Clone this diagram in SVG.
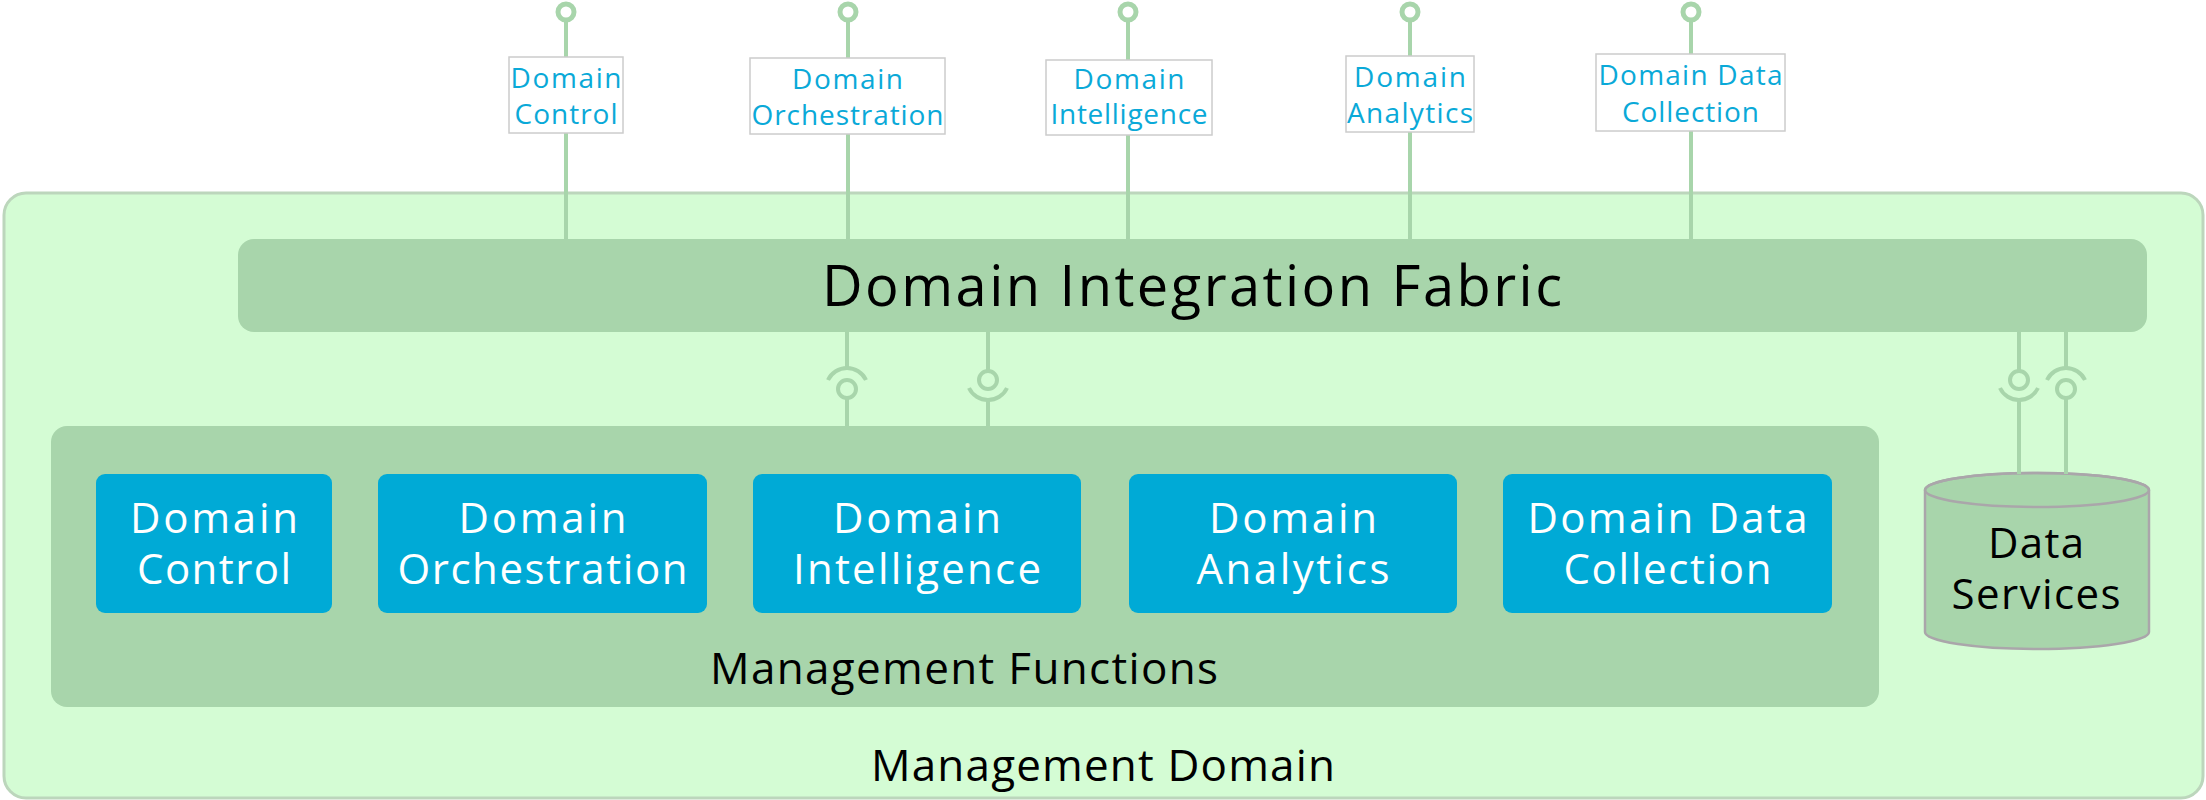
<svg xmlns="http://www.w3.org/2000/svg" width="2206" height="800" viewBox="0 0 2206 800">
<style>
text{font-family:"Open Sans","Noto Sans","DejaVu Sans",sans-serif;}
.outer{fill:#d4fcd4;stroke:#bcd6bc;stroke-width:3;}
.fabric{fill:#a8d5ab;}
.fn{fill:#00aad6;}
.lbl{fill:#ffffff;stroke:#cccccc;stroke-width:1.5;}
.lt{fill:#0aa9d8;font-size:28px;text-anchor:middle;}
.wt{fill:#ffffff;font-size:42px;text-anchor:middle;}
.bt{fill:#000000;text-anchor:middle;}
.ln{stroke:#a8d5ab;stroke-width:4;fill:none;}
.ball{stroke:#a8d5ab;stroke-width:4;fill:#d4fcd4;}
.top{stroke:#a8d5ab;stroke-width:5;fill:#ffffff;}
.cyl{fill:#a8d5ab;stroke:#aaa6aa;stroke-width:2.5;}
</style>

<g id="management-domain">
  <rect class="outer" x="4" y="193" width="2199" height="605" rx="22"/>
  <text class="bt" x="1103" y="781" font-size="44" textLength="464">Management Domain</text>
</g>

<g id="domain-integration-fabric">
  <rect class="fabric" x="238" y="239" width="1909" height="93" rx="16"/>
  <text class="bt" x="1192" y="306" font-size="56" textLength="740">Domain Integration Fabric</text>
</g>

<g id="management-functions">
  <rect class="fabric" x="51" y="426" width="1828" height="281" rx="16"/>
  <text class="bt" x="964" y="684" font-size="44" textLength="508">Management Functions</text>
</g>

<g id="domain-control">
  <rect class="fn" x="96" y="474" width="236" height="139" rx="9"/>
  <text class="wt" x="214" y="533" textLength="168">Domain</text>
  <text class="wt" x="214" y="584" textLength="154">Control</text>
</g>
<g id="domain-orchestration">
  <rect class="fn" x="378" y="474" width="329" height="139" rx="9"/>
  <text class="wt" x="542.5" y="533" textLength="168">Domain</text>
  <text class="wt" x="542.5" y="584" textLength="290">Orchestration</text>
</g>
<g id="domain-intelligence">
  <rect class="fn" x="753" y="474" width="328" height="139" rx="9"/>
  <text class="wt" x="917" y="533" textLength="168">Domain</text>
  <text class="wt" x="917" y="584" textLength="248">Intelligence</text>
</g>
<g id="domain-analytics">
  <rect class="fn" x="1129" y="474" width="328" height="139" rx="9"/>
  <text class="wt" x="1293" y="533" textLength="168">Domain</text>
  <text class="wt" x="1293" y="584" textLength="193">Analytics</text>
</g>
<g id="domain-data-collection">
  <rect class="fn" x="1503" y="474" width="329" height="139" rx="9"/>
  <text class="wt" x="1667.5" y="533" textLength="280">Domain Data</text>
  <text class="wt" x="1667.5" y="584" textLength="208">Collection</text>
</g>

<g id="data-services">
  <path class="cyl" d="M1925 490 L1925 632 A112 17 0 0 0 2149 632 L2149 490 A112 17 0 0 0 1925 490 Z"/>
  <ellipse cx="2037" cy="490" rx="112" ry="17" fill="none" stroke="#aaa6aa" stroke-width="2.5"/>
  <text class="bt" x="2036" y="558" font-size="42" textLength="96">Data</text>
  <text class="bt" x="2036" y="609" font-size="42" textLength="169">Services</text>
</g>

<g id="connectors">
  <!-- exposed interfaces at top -->
  <line class="ln" x1="566" y1="20" x2="566" y2="239"/>
  <line class="ln" x1="848" y1="20" x2="848" y2="239"/>
  <line class="ln" x1="1128" y1="20" x2="1128" y2="239"/>
  <line class="ln" x1="1410" y1="20" x2="1410" y2="239"/>
  <line class="ln" x1="1691" y1="20" x2="1691" y2="239"/>
  <circle class="top" cx="566" cy="12" r="8"/>
  <circle class="top" cx="848" cy="12" r="8"/>
  <circle class="top" cx="1128" cy="12" r="8"/>
  <circle class="top" cx="1410" cy="12" r="8"/>
  <circle class="top" cx="1691" cy="12" r="8"/>

  <!-- fabric to management functions: socket above, ball below -->
  <line class="ln" x1="847" y1="332" x2="847" y2="368"/>
  <path class="ln" d="M828 380 A21 21 0 0 1 866 380"/>
  <line class="ln" x1="847" y1="398" x2="847" y2="426"/>
  <circle class="ball" cx="847" cy="389" r="9"/>

  <!-- fabric to management functions: ball above, socket below -->
  <line class="ln" x1="988" y1="332" x2="988" y2="371"/>
  <circle class="ball" cx="988" cy="380" r="9"/>
  <path class="ln" d="M969 388 A21 21 0 0 0 1007 388"/>
  <line class="ln" x1="988" y1="401" x2="988" y2="426"/>

  <!-- fabric to data services: ball above, socket below -->
  <line class="ln" x1="2019" y1="332" x2="2019" y2="371"/>
  <circle class="ball" cx="2019" cy="380" r="9"/>
  <path class="ln" d="M2000 388 A21 21 0 0 0 2038 388"/>
  <line class="ln" x1="2019" y1="401" x2="2019" y2="474"/>

  <!-- fabric to data services: socket above, ball below -->
  <line class="ln" x1="2066" y1="332" x2="2066" y2="368"/>
  <path class="ln" d="M2047 380 A21 21 0 0 1 2085 380"/>
  <circle class="ball" cx="2066" cy="389" r="9"/>
  <line class="ln" x1="2066" y1="398" x2="2066" y2="474"/>
</g>

<g id="label-domain-control">
  <rect class="lbl" x="509" y="57" width="114" height="76"/>
  <text class="lt" x="566" y="88" textLength="111">Domain</text>
  <text class="lt" x="566" y="124" textLength="103">Control</text>
</g>
<g id="label-domain-orchestration">
  <rect class="lbl" x="750" y="58" width="195" height="76"/>
  <text class="lt" x="847.5" y="89" textLength="111">Domain</text>
  <text class="lt" x="847.5" y="125" textLength="192">Orchestration</text>
</g>
<g id="label-domain-intelligence">
  <rect class="lbl" x="1046" y="60" width="166" height="75"/>
  <text class="lt" x="1129" y="89" textLength="111">Domain</text>
  <text class="lt" x="1129" y="124" textLength="157">Intelligence</text>
</g>
<g id="label-domain-analytics">
  <rect class="lbl" x="1346" y="56" width="128" height="76"/>
  <text class="lt" x="1410" y="87" textLength="112">Domain</text>
  <text class="lt" x="1410" y="123" textLength="126">Analytics</text>
</g>
<g id="label-domain-data-collection">
  <rect class="lbl" x="1596" y="54" width="189" height="77"/>
  <text class="lt" x="1690.5" y="85" textLength="184">Domain Data</text>
  <text class="lt" x="1690.5" y="122" textLength="137">Collection</text>
</g>
</svg>
